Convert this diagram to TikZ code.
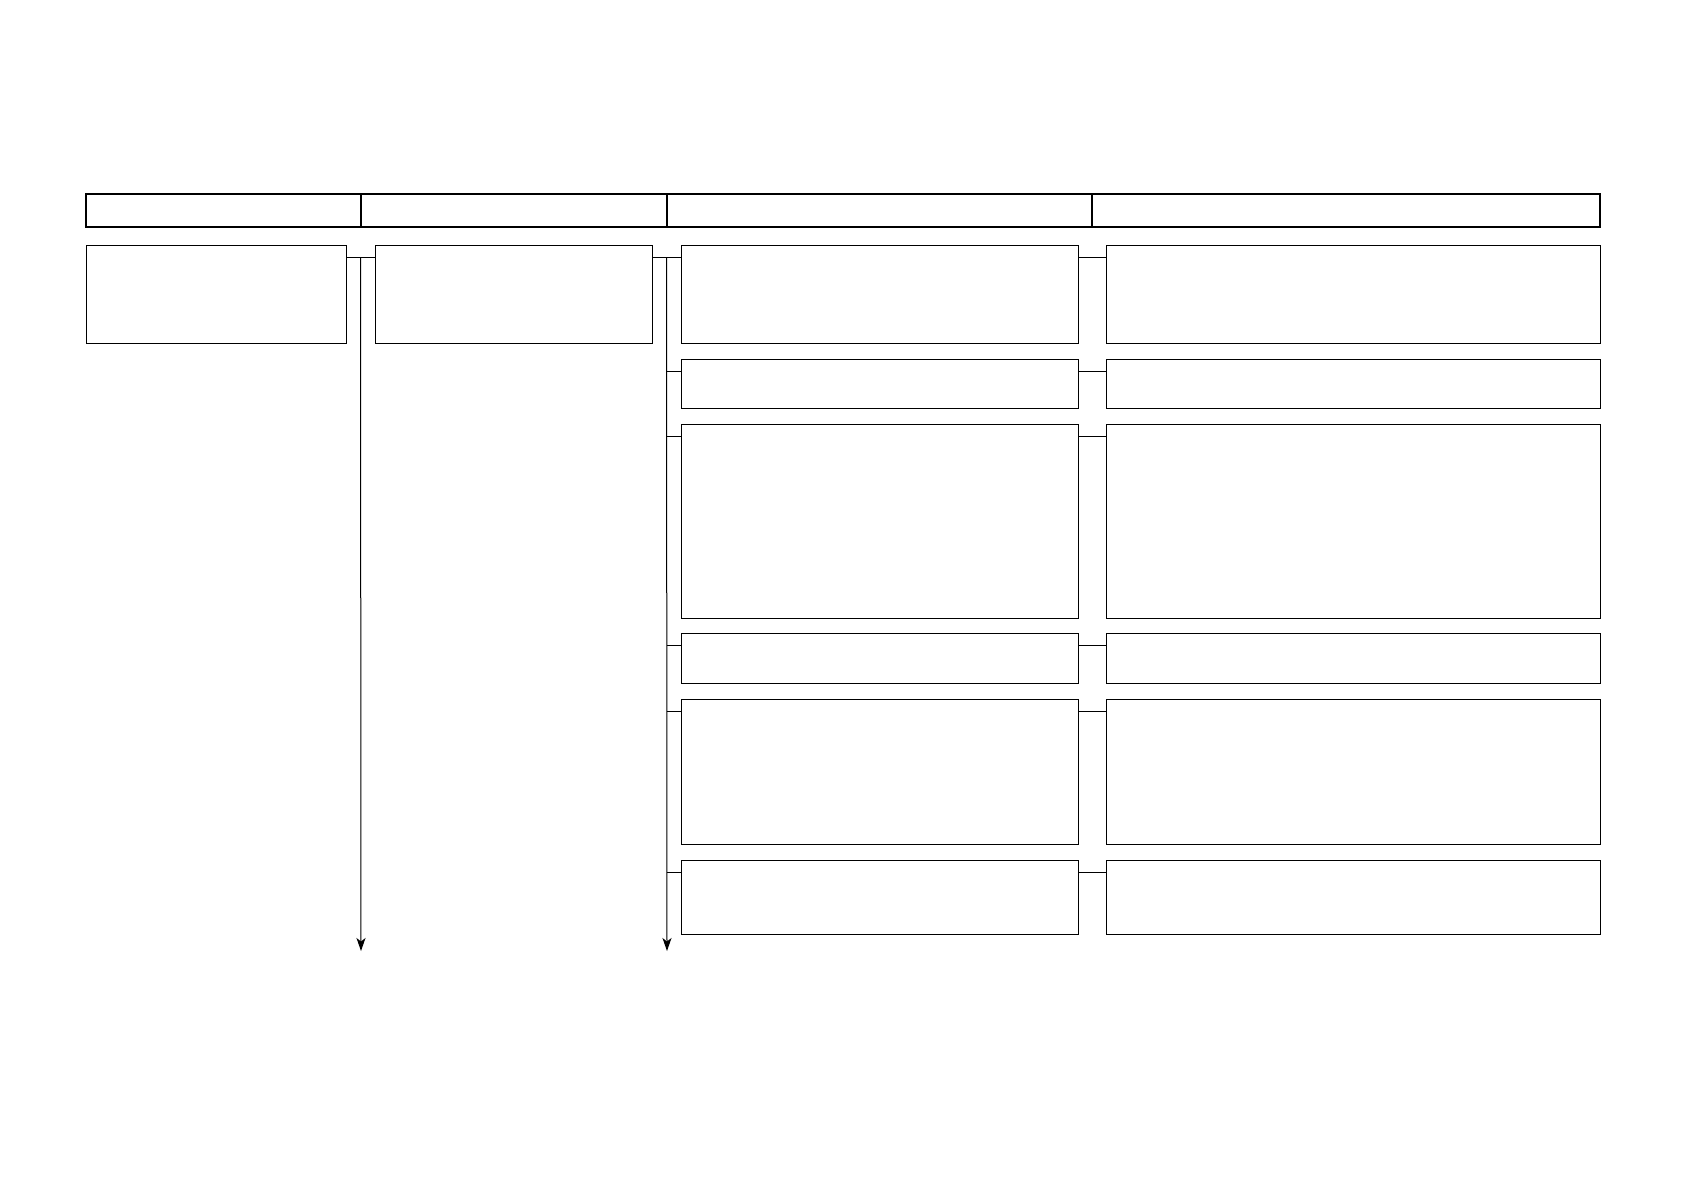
\documentclass[tikz,border=0pt]{standalone}
\usetikzlibrary{arrows.meta,calc}
\begin{document}
\begin{tikzpicture}[x=1pt,y=-1pt,
  box/.style={draw=black,line width=1pt,rectangle,inner sep=0pt,outer sep=0pt,anchor=north west},
  hcell/.style={draw=black,line width=2.4pt,rectangle,inner sep=0pt,outer sep=0pt,anchor=north west,minimum height=33pt},
  link/.style={draw=black,line width=1pt},
  flow/.style={draw=black,line width=1pt,-{Stealth[length=13pt,width=9pt,inset=3.5pt]}}]
\useasboundingbox (0,0) rectangle (1684,1191);
% header
\node[hcell,minimum width=275pt] (h1) at (86,194) {};
\node[hcell,minimum width=306pt] (h2) at (361,194) {};
\node[hcell,minimum width=425pt] (h3) at (667,194) {};
\node[hcell,minimum width=508pt] (h4) at (1092,194) {};
% column 1 and 2
\node[box,minimum width=260pt,minimum height=98pt] (a1) at (86,245) {};
\node[box,minimum width=277pt,minimum height=98pt] (a2) at (375,245) {};
% column 3
\node[box,minimum width=397pt,minimum height=98pt]  (b1) at (681,245) {};
\node[box,minimum width=397pt,minimum height=49pt]  (b2) at (681,359) {};
\node[box,minimum width=397pt,minimum height=194pt] (b3) at (681,424) {};
\node[box,minimum width=397pt,minimum height=50pt]  (b4) at (681,633) {};
\node[box,minimum width=397pt,minimum height=145pt] (b5) at (681,699) {};
\node[box,minimum width=397pt,minimum height=74pt]  (b6) at (681,860) {};
% column 4
\node[box,minimum width=494pt,minimum height=98pt]  (c1) at (1106,245) {};
\node[box,minimum width=494pt,minimum height=49pt]  (c2) at (1106,359) {};
\node[box,minimum width=494pt,minimum height=194pt] (c3) at (1106,424) {};
\node[box,minimum width=494pt,minimum height=50pt]  (c4) at (1106,633) {};
\node[box,minimum width=494pt,minimum height=145pt] (c5) at (1106,699) {};
\node[box,minimum width=494pt,minimum height=74pt]  (c6) at (1106,860) {};
% connectors
\draw[link] ([yshift=-12pt]a1.north east) -- ([yshift=-12pt]a2.north west);
\draw[link] ([yshift=-12pt]a2.north east) -- ([yshift=-12pt]b1.north west);
\coordinate (v1top) at ($([yshift=-12pt]a1.north east)!0.5!([yshift=-12pt]a2.north west)$);
\coordinate (v2top) at ($([yshift=-12pt]a2.north east)!0.5!([yshift=-12pt]b1.north west)$);
\coordinate (v1end) at (361,951);
\coordinate (v2end) at (667,951);
\draw[flow] (v1top) -- (v1end);
\draw[flow] (v2top) -- (v2end);
\foreach \k in {2,...,6}{
  \coordinate (p\k) at ([yshift=-12pt]b\k.north west);
  \draw[link] (v2top |- p\k) -- (p\k);
}
\foreach \k in {1,...,6}{
  \draw[link] ([yshift=-12pt]b\k.north east) -- ([yshift=-12pt]c\k.north west);
}
\end{tikzpicture}
\end{document}
